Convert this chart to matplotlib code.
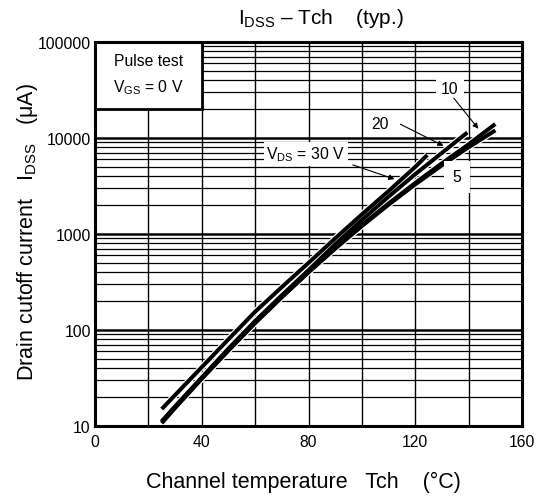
import matplotlib
matplotlib.use("Agg")
import matplotlib.pyplot as plt
from matplotlib.patches import Rectangle

plt.rcParams['font.family'] = ['Liberation Sans', 'DejaVu Sans']
plt.rcParams['mathtext.fontset'] = 'custom'
plt.rcParams['mathtext.rm'] = 'Liberation Sans'
plt.rcParams['mathtext.it'] = 'Liberation Sans'

# Data (Tch in degC, IDSS in uA)
t_30v = [25, 30, 40, 50, 60, 70, 80, 90, 100, 110, 120, 124.5]
i_30v = [15, 21, 41, 80, 155, 280, 500, 900, 1600, 2800, 5000, 6650]
t_20v = [25, 30, 40, 50, 60, 70, 80, 90, 100, 110, 120, 130, 139.5]
i_20v = [11.2, 16, 32, 64, 124, 230, 420, 780, 1400, 2450, 4200, 7000, 11400]
t_10v = [25, 30, 40, 50, 60, 70, 80, 90, 100, 110, 120, 130, 140, 150]
i_10v = [11, 15.8, 31.5, 62, 120, 222, 405, 715, 1240, 2080, 3400, 5450, 8600, 14000]
t_5v = [25, 30, 40, 50, 60, 70, 80, 90, 100, 110, 120, 130, 140, 150]
i_5v = [10.7, 15.4, 31, 61, 118, 219, 398, 703, 1210, 2020, 3290, 5200, 8020, 12000]

x_ticks = [0, 40, 80, 120, 160]
x_grid = [0, 20, 40, 60, 80, 100, 120, 140, 160]
y_ticks = [10, 100, 1000, 10000, 100000]
y_tick_labels = ["10", "100", "1000", "10000", "100000"]

FS = 11.3

fig = plt.figure(figsize=(5.41, 5.02), dpi=100)
ax = fig.add_axes([95/541, 1-427/502, 427/541, 384/502])
ax.set_yscale('log')
ax.set_xlim(0, 160)
ax.set_ylim(10, 100000)

# grid
for xv in x_grid:
    ax.axvline(xv, color='black', lw=1.0, zorder=1)
for dec in [10, 100, 1000, 10000]:
    ax.axhline(dec, color='black', lw=1.8, zorder=1)
    for m in range(2, 10):
        ax.axhline(dec*m, color='black', lw=0.9, zorder=1)

curves = [(t_30v, i_30v), (t_20v, i_20v), (t_10v, i_10v), (t_5v, i_5v)]
for t, i in curves:
    ax.plot(t, i, color='white', lw=4.6, zorder=3, solid_capstyle='butt')
for t, i in curves:
    ax.plot(t, i, color='black', lw=2.9, zorder=4, solid_capstyle='butt')

# Pulse test box
ax.add_patch(Rectangle((0, 20000), 40, 80000, facecolor='white', edgecolor='black', lw=2, zorder=5))
ax.text(20, 64900, "Pulse test", ha='center', va='center', fontsize=FS, zorder=6)
ax.text(20, 34000, r"V$_{\mathregular{GS}}$ = 0 V", ha='center', va='center', fontsize=FS, zorder=6)

bbox = dict(facecolor='white', edgecolor='none', pad=2)
ax.text(79, 6800, r"V$_{\mathregular{DS}}$ = 30 V", ha='center', va='center', fontsize=FS, zorder=6, bbox=bbox)
ax.text(106.8, 14000, "20", ha='center', va='center', fontsize=FS, zorder=6, bbox=bbox)
ax.text(133, 32400, "10", ha='center', va='center', fontsize=FS, zorder=6, bbox=dict(facecolor='white', edgecolor='none', pad=4))
ax.text(135.6, 3925, "5", ha='center', va='center', fontsize=FS, zorder=6, bbox=dict(facecolor='white', edgecolor='none', pad=6))

arrow = dict(arrowstyle='-|>', color='black', lw=0.8, mutation_scale=8)
ax.annotate("", xy=(144.3, 11830), xytext=(133.8, 27380), arrowprops=arrow, zorder=7)
ax.annotate("", xy=(131.5, 8050), xytext=(113.5, 14320), arrowprops=arrow, zorder=7)
ax.annotate("", xy=(113.2, 3650), xytext=(95.6, 5360), arrowprops=arrow, zorder=7)

ax.set_xticks(x_ticks)
ax.set_xticklabels([str(v) for v in x_ticks])
ax.set_yticks(y_ticks)
ax.set_yticklabels(y_tick_labels)
ax.minorticks_off()
ax.tick_params(length=0, labelsize=FS, pad=3)
ax.tick_params(axis='x', pad=6)
for s in ax.spines.values():
    s.set_linewidth(2.2)
    s.set_zorder(8)

fig.text(303/541, 1-482/502, "Channel temperature   Tch    (°C)", ha='center', va='center', fontsize=15.5)
fig.text(28/541, 1-232/502, r"Drain cutoff current   I$_{\mathregular{DSS}}$   (μA)", ha='center', va='center', fontsize=15.5, rotation=90)
fig.text(321/541, 1-18/502, r"I$_{\mathregular{DSS}}$ – Tch    (typ.)", ha='center', va='center', fontsize=15)

fig.savefig("out.png", dpi=100)
